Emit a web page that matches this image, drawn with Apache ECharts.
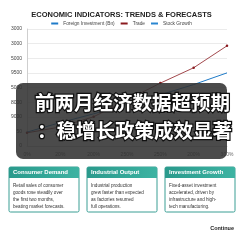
<!DOCTYPE html>
<html><head><meta charset="utf-8">
<script src="https://cdn.jsdelivr.net/npm/echarts@6/dist/echarts.min.js"></script>
<style>html,body{margin:0;padding:0;background:#fff}#c{width:243px;height:243px}</style>
</head><body><div id="c"></div>
<script>
const chartTitle = 'ECONOMIC INDICATORS: TRENDS & FORECASTS';
const xLabels = ['0%', '20%', '200%', '250%', '250%', '200%', '300%'];
const yTickLabels = ['0', '50', '9000', '8000', '5000', '9500', '5000', '3000', '3000'];
const seriesNames = ['Foreign Investment (Bn)', 'Trade', 'Stock Growth'];
const blueValues = [0.95, 1.6, 2.2, 2.85, 3.5, 4.2, 5.0];
const redValues = [0.9, 1.3, 2.0, 3.15, 4.3, 5.35, 6.85];
const headline = ['前两月经济数据超预期', '：稳增长政策成效显著'];
const cardTitles = ['Consumer Demand', 'Industrial Output', 'Investment Growth'];
const cardBodies = [
  'Retail sales of consumer\ngoods rose steadily over\nthe first two months,\nbeating market forecasts.',
  'Industrial production\ngrew faster than expected\nas factories resumed\nfull operations.',
  'Fixed-asset investment\naccelerated, driven by\ninfrastructure and high-\ntech manufacturing.'
];
const footNote = 'Continue';

const chart = echarts.init(document.getElementById('c'), null, {renderer: 'canvas'});
const font = 'Liberation Sans, Arial, sans-serif';
const graphics = [
  {type: 'rect', z: 100, shape: {x: 16, y: 83, width: 211, height: 76, r: 7},
   style: {fill: 'rgba(48,48,48,0.87)'}},
  {type: 'text', z: 101, x: 35, y: 103,
   style: {text: headline[0], fill: '#fff', stroke: '#111', lineWidth: 2.5,
     font: 'bold 19.5px "Noto Sans CJK SC"', textVerticalAlign: 'middle', textAlign: 'left'}},
  {type: 'text', z: 101, x: 37, y: 131,
   style: {text: headline[1], fill: '#fff', stroke: '#111', lineWidth: 2.5,
     font: 'bold 19.5px "Noto Sans CJK SC"', textVerticalAlign: 'middle', textAlign: 'left'}},
  {type: 'text', z: 101, x: 234, y: 228,
   style: {text: footNote, fill: '#222', font: 'bold 5.5px ' + font, textAlign: 'right', textVerticalAlign: 'middle'}}
];
cardTitles.forEach((t, i) => {
  const x = 9 + i * 78;
  graphics.push(
    {type: 'rect', z: 100, shape: {x: x, y: 167, width: 70, height: 45, r: 1.5},
     style: {fill: '#fff', stroke: '#3a9e94', lineWidth: 1}},
    {type: 'rect', z: 101, shape: {x: x, y: 167, width: 70, height: 11, r: [1.5, 1.5, 0, 0]},
     style: {fill: new echarts.graphic.LinearGradient(0, 0, 1, 0, [
       {offset: 0, color: '#2a9a8c'}, {offset: 1, color: '#3db3a2'}])}},
    {type: 'text', z: 102, x: x + 4, y: 172.5,
     style: {text: t, fill: '#fff', font: 'bold 6px ' + font, textVerticalAlign: 'middle'}},
    {type: 'text', z: 102, x: x + 4, y: 182,
     style: {text: cardBodies[i], fill: '#333', font: '4.6px ' + font, lineHeight: 7}}
  );
});

chart.setOption({
  animation: false,
  title: {text: chartTitle, left: 'center', top: 6,
    textStyle: {fontSize: 7.5, fontWeight: 'bold', color: '#222', fontFamily: font}},
  legend: {top: 16, left: 'center', itemWidth: 7, itemHeight: 2, itemGap: 6, icon: 'rect',
    textStyle: {fontSize: 4.8, color: '#444', fontFamily: font},
    data: seriesNames},
  grid: {left: 27, right: 16, top: 29, bottom: 97},
  xAxis: {type: 'category', boundaryGap: false, data: xLabels,
    axisLine: {lineStyle: {color: '#cfcfcf'}}, axisTick: {show: false},
    axisLabel: {fontSize: 5, color: '#666', margin: 6, fontFamily: font}},
  yAxis: {type: 'value', min: 0, max: 8, interval: 1,
    axisLine: {show: true, lineStyle: {color: '#cfcfcf'}},
    splitLine: {lineStyle: {color: '#e6e6e6', width: 0.8}},
    axisLabel: {fontSize: 5, color: '#444', margin: 5, fontFamily: font,
      formatter: v => yTickLabels[v] || ''}},
  series: [
    {name: seriesNames[0], type: 'line', data: blueValues, symbol: 'none',
     lineStyle: {color: '#1f7bc8', width: 1}, itemStyle: {color: '#1f7bc8'}},
    {name: seriesNames[1], type: 'line', data: redValues, symbol: 'circle', symbolSize: 2.5,
     lineStyle: {color: '#8a1a1f', width: 0.8}, itemStyle: {color: '#8a1a1f'}},
    {name: seriesNames[2], type: 'line', data: [], symbol: 'none',
     lineStyle: {color: '#2a86d0', width: 1}, itemStyle: {color: '#2a86d0'}}
  ],
  graphic: graphics
});
</script></body></html>
